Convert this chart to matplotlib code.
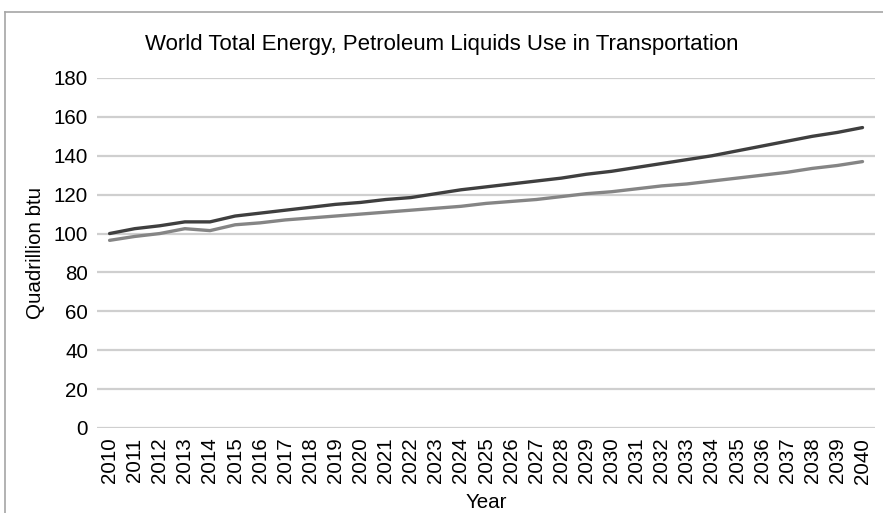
import matplotlib
matplotlib.use("Agg")
import matplotlib.pyplot as plt
from matplotlib.lines import Line2D

years = [str(y) for y in range(2010, 2041)]

total_energy = [100, 102.5, 104, 106, 106, 109, 110.5, 112, 113.5, 115, 116,
                117.5, 118.5, 120.5, 122.5, 124, 125.5, 127, 128.5, 130.5, 132,
                134, 136, 138, 140, 142.5, 145, 147.5, 150, 152, 154.5]

petroleum_liquids = [96.5, 98.5, 100, 102.5, 101.5, 104.5, 105.5, 107, 108, 109,
                     110, 111, 112, 113, 114, 115.5, 116.5, 117.5, 119, 120.5,
                     121.5, 123, 124.5, 125.5, 127, 128.5, 130, 131.5, 133.5,
                     135, 137]

y_ticks = [0, 20, 40, 60, 80, 100, 120, 140, 160, 180]

plt.rcParams['font.family'] = ['Liberation Sans', 'DejaVu Sans']

fig = plt.figure(figsize=(8.83, 5.13), dpi=100)
ax = fig.add_axes([0.1099, 0.1657, 0.991 - 0.1099, 0.848 - 0.1657])

x = list(range(len(years)))
ax.plot(x, total_energy, color="#3f3f3f", lw=2.4, solid_capstyle="round")
ax.plot(x, petroleum_liquids, color="#858585", lw=2.4, solid_capstyle="round")

ax.set_xlim(-0.5, len(years) - 0.5)
ax.set_ylim(0, 180)
ax.set_yticks(y_ticks)
ax.set_xticks(x)
ax.set_xticklabels(years, rotation=90)

for v in y_ticks:
    ax.axhline(v, color="#cfcfcf", lw=1.6, zorder=0)

for s in ax.spines.values():
    s.set_visible(False)
ax.tick_params(axis="both", length=0, labelsize=14.8, colors="#000000")
ax.tick_params(axis="y", pad=6.5)
ax.tick_params(axis="x", pad=7)

ax.set_ylabel("Quadrillion btu", fontsize=14.8, labelpad=6)
ax.set_xlabel("Year", fontsize=14.8, labelpad=7)
fig.text(0.5, 0.914, "World Total Energy, Petroleum Liquids Use in Transportation",
         ha="center", va="center", fontsize=16)

# outer chart frame (top and left edges)
fig.add_artist(Line2D([5 / 883, 1.0], [1 - 12 / 513, 1 - 12 / 513],
                      transform=fig.transFigure, color="#a6a6a6", lw=1.2))
fig.add_artist(Line2D([5 / 883, 5 / 883], [0.0, 1 - 12 / 513],
                      transform=fig.transFigure, color="#a6a6a6", lw=1.2))

fig.savefig("out.png", dpi=100)
